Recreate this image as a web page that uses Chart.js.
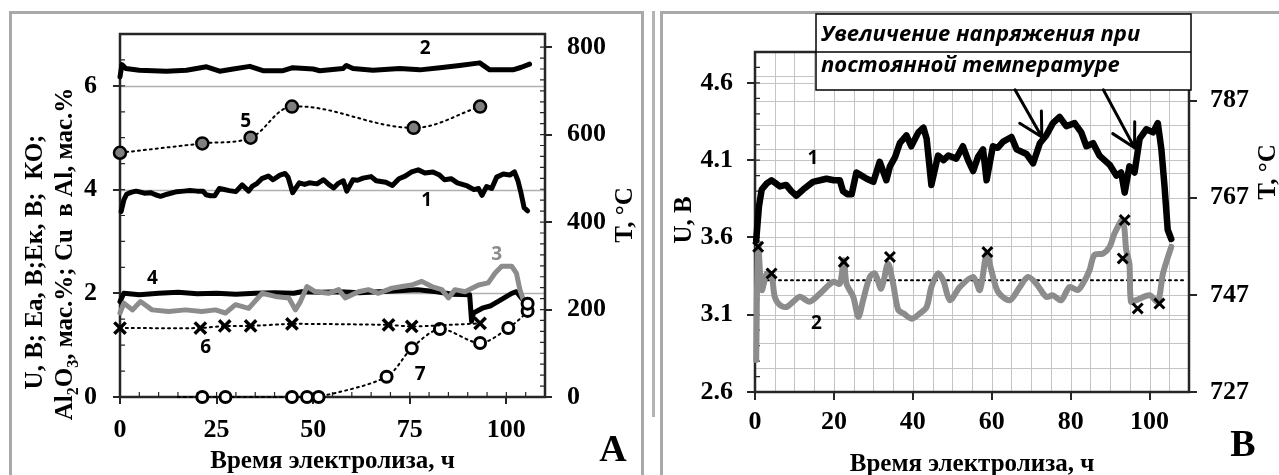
<!DOCTYPE html>
<html>
<head>
<meta charset="utf-8">
<script src="https://cdn.jsdelivr.net/npm/chart.js@4.4.0/dist/chart.umd.min.js"></script>
<style>
  html, body { margin: 0; padding: 0; background: #fff; }
  body { width: 1279px; height: 475px; position: relative; overflow: hidden; }
  .frame { position: absolute; border: 3px solid #a9a9a9; box-sizing: border-box; }
  canvas { position: absolute; top: 0; }
</style>
</head>
<body>
<div class="frame" style="left:9px; top:11px; width:635px; height:490px;"></div>
<div style="position:absolute; left:652px; top:11px; width:3px; height:406px; background:#b4b4b4;"></div>
<div class="frame" style="left:660px; top:11px; width:640px; height:490px;"></div>
<canvas id="panelA" width="640" height="475" style="left:0px;"></canvas>
<canvas id="panelB" width="619" height="475" style="left:660px;"></canvas>
<script>
// ---- Cell voltage U, V (curve 1 in both panels) ----
const timeU = [0.3, 1.0, 1.7, 3.0, 4.2, 5.3, 6.3, 7.9, 9.2, 10.5, 12.2, 14.7, 16.5, 18.1, 20.0, 21.5, 22.3, 23.4, 24.5,
  25.7, 27.0, 28.3, 30.0, 31.6, 33.3, 34.2, 35.5, 36.7, 38.4, 39.6, 41.4, 42.7, 43.5, 44.7, 46.4, 47.8, 49.0, 51.0,
  52.7, 54.0, 55.3, 56.5, 57.8, 58.7, 60.3, 61.5, 62.9, 65.0, 66.3, 68.8, 70.5, 72.2, 73.8, 75.5, 77.2, 78.9, 81.0,
  82.7, 84.0, 85.7, 87.3, 89.9, 91.6, 92.8, 93.7, 94.9, 96.2, 97.5, 99.2, 100.9, 102.1, 103.0, 103.8, 104.6, 105.5];
const voltU = [3.58, 3.80, 3.91, 3.95, 3.97, 3.95, 3.93, 3.94, 3.90, 3.87, 3.91, 3.96, 3.97, 3.98, 3.97, 3.97, 3.90, 3.88, 3.88,
  4.02, 4.00, 3.98, 3.96, 4.09, 3.97, 4.06, 4.12, 4.21, 4.26, 4.19, 4.28, 4.31, 4.24, 3.94, 4.13, 4.10, 4.13, 4.11,
  4.19, 4.10, 4.03, 4.12, 4.17, 3.97, 4.19, 4.18, 4.22, 4.25, 4.17, 4.14, 4.08, 4.21, 4.26, 4.34, 4.38, 4.32, 4.34,
  4.28, 4.19, 4.21, 4.13, 4.07, 4.00, 4.02, 3.89, 4.06, 4.02, 4.24, 4.30, 4.28, 4.34, 4.17, 3.93, 3.65, 3.59];

// ---- Panel A: temperature T, °C (curve 2) ----
const timeTempA = [0, 0.5, 1.5, 5, 12, 17.2, 22.4, 25.8, 29.3, 33.6, 37, 42.2, 44.7, 50, 51.7, 57.7, 58.6, 60.3,
  65.5, 72.4, 77.6, 82.8, 87.9, 93.1, 95.7, 101.7, 103.9, 106];
const tempA = [732, 760, 751, 747, 745, 747, 755, 745, 750, 756, 746, 746, 753, 750, 746, 751, 758, 751,
  747, 751, 748, 753, 758, 764, 748, 748, 754, 761];

// ---- Panel A: anode potential Ea, V (curve 3) ----
const timeEa = [0, 1, 3.2, 5.3, 8.3, 12.6, 16.9, 21.2, 24.7, 27.3, 29.9, 33.3, 36.8, 40.2, 43.7, 45.4, 46.7, 48.4,
  50.5, 54, 56.6, 58.3, 61.7, 64.3, 66.9, 70.4, 73, 75.5, 78.1, 80.7, 83.3, 85, 86.7, 89.3, 92.8, 95.3, 97.1, 98.8,
  101.4, 102.6, 103.5, 104.4];
const voltEa = [1.62, 1.81, 1.68, 1.84, 1.68, 1.65, 1.68, 1.65, 1.68, 1.62, 1.78, 1.71, 2.00, 1.94, 1.91, 1.68, 1.84, 2.13,
  2.03, 2.00, 2.07, 1.91, 2.03, 2.07, 2.00, 2.10, 2.13, 2.16, 2.23, 2.13, 2.07, 1.91, 2.07, 2.03, 2.16, 2.20, 2.39, 2.52,
  2.52, 2.39, 2.07, 1.87];

// ---- Panel A: cathode potential Ek, V (curve 4) ----
const timeEk = [0, 1, 5, 10, 15, 20, 25, 30, 35, 40, 45, 47, 52, 57, 62, 67, 72, 77, 82, 86, 90.5, 91.0, 91.5,
  94, 96, 98, 101.4, 102.6, 104, 105.5];
const voltEk = [1.84, 2.00, 1.97, 2.00, 2.02, 1.99, 2.00, 1.98, 2.00, 2.01, 2.00, 2.03, 2.02, 2.03, 2.01, 2.03, 2.05, 2.07,
  2.03, 1.98, 1.97, 1.46, 1.62, 1.72, 1.76, 1.85, 2.00, 2.03, 1.90, 1.78];

// ---- Panel A: cryolite ratio KO (5), Al2O3 wt.% (6), Cu in Al wt.% (7) ----
const timeKO = [0, 21.3, 33.8, 44.5, 76, 93.2];
const ratioKO = [4.71, 4.89, 5.00, 5.60, 5.19, 5.60];
const timeAl2O3 = [0, 20.8, 27.1, 33.8, 44.5, 69.5, 75.5, 93.2];
const al2o3 = [1.33, 1.33, 1.37, 1.37, 1.41, 1.39, 1.36, 1.42];
const timeCu = [15, 21.3, 27.3, 44.5, 48.4, 51.4, 69, 75.5, 82.8, 93.2, 100.5, 105.5, 105.5];
const cuInAl = [0, 0, 0, 0, 0, 0, 0.39, 0.94, 1.31, 1.04, 1.33, 1.66, 1.80];

// ---- Panel B: electrolyte temperature T, °C (curve 2) ----
const timeTempB = [0.3, 0.8, 1.7, 3.0, 4.2, 5.0, 6.3, 8.0, 9.7, 11.4, 13.9, 16.9, 19.8, 21.5, 22.5, 23.2, 24.9, 26.2,
  27.4, 29.1, 30.4, 32.0, 33.7, 35.0, 36.3, 37.6, 39.7, 41.8, 43.5, 44.7, 46.4, 47.7, 49.4, 51.9, 55.3, 57.0, 58.7,
  59.9, 61.6, 64.6, 67.1, 69.2, 71.3, 73.8, 75.5, 77.6, 79.7, 81.8, 83.1, 84.8, 86.0, 88.2, 89.9, 91.1, 93.2, 94.1,
  94.9, 95.3, 96.6, 100.0, 102.1, 103.4, 105.5];
const tempB = [733.6, 757.6, 748.0, 751.4, 751.0, 746.6, 744.9, 744.5, 745.6, 746.6, 745.6, 747.6, 749.7, 749.3, 754.1, 749.3, 746.6, 742.5,
  745.9, 750.7, 751.4, 748.3, 753.4, 749.3, 743.9, 743.2, 742.1, 743.2, 744.5, 748.6, 751.4, 750.0, 745.9, 748.6, 750.7, 748.0, 755.5,
  752.1, 747.6, 745.9, 748.6, 750.7, 749.3, 746.6, 746.9, 745.9, 748.6, 748.0, 749.3, 752.1, 755.2, 755.5, 756.9, 759.6, 762.4, 756.2,
  753.4, 745.6, 745.9, 746.9, 745.6, 751.4, 756.9];
// thermocouple check readings, °C
const timeCheck = [0.8, 4.2, 22.5, 34.2, 58.9, 93.2, 93.7, 97.0, 102.5];
const tempCheck = [756.9, 751.4, 753.8, 754.8, 755.8, 754.5, 762.4, 744.2, 745.2];
// set-point temperature and the time span it is drawn over
const setTemp = 750;
const setSpan = [0, 109];

// ---- Tick labels ----
const ticksAx = [0, 25, 50, 75, 100];
const ticksAy = [0, 2, 4, 6];
const ticksAy2 = [0, 200, 400, 600, 800];
const ticksBx = [0, 20, 40, 60, 80, 100];
const ticksBy = [2.6, 3.1, 3.6, 4.1, 4.6];
const ticksBy2 = [727, 747, 767, 787];

// ---------------------------------------------------------------
const pts = (xs, ys) => xs.map((x, i) => ({ x, y: ys[i] }));
const serif = (size) => `bold ${size}px "Liberation Serif", "Times New Roman", serif`;
const sans = (size) => `bold ${size}px "Open Sans", "Noto Sans", sans-serif`;
const tickFont = { family: '"Liberation Serif", "Times New Roman", serif', size: 26, weight: 'bold' };
const titleSize = 25;
const setTicks = (values) => (s) => { s.ticks = values.map(v => ({ value: v })); };
const axisLine = '#262626';

function minorTicks(ctx, chart, id, step, len) {
  const s = chart.scales[id], a = chart.chartArea;
  const n = Math.round((s.max - s.min) / step);
  ctx.beginPath();
  for (let k = 1; k < n; k++) {
    const p = s.getPixelForValue(s.min + k * step);
    if (s.isHorizontal()) { ctx.moveTo(p, a.bottom); ctx.lineTo(p, a.bottom - len); }
    else if (s.position === 'left') { ctx.moveTo(a.left, p); ctx.lineTo(a.left + len, p); }
    else { ctx.moveTo(a.right, p); ctx.lineTo(a.right - len, p); }
  }
  ctx.stroke();
}

function hLines(ctx, chart, id, values) {
  const s = chart.scales[id], a = chart.chartArea;
  ctx.beginPath();
  values.forEach(v => { const p = Math.round(s.getPixelForValue(v)) + 0.5; ctx.moveTo(a.left, p); ctx.lineTo(a.right, p); });
  ctx.stroke();
}

function vLines(ctx, chart, id, values) {
  const s = chart.scales[id], a = chart.chartArea;
  ctx.beginPath();
  values.forEach(v => { const p = Math.round(s.getPixelForValue(v)) + 0.5; ctx.moveTo(p, a.top); ctx.lineTo(p, a.bottom); });
  ctx.stroke();
}

// rotated (bottom-to-top) title; parts = [[text, isSubscript], ...]
function rotatedTitle(ctx, parts, cx, cy, size) {
  ctx.save();
  ctx.translate(cx, cy);
  ctx.rotate(-Math.PI / 2);
  ctx.textBaseline = 'middle';
  ctx.textAlign = 'left';
  ctx.fillStyle = '#000';
  const fontOf = (sub) => serif(sub ? Math.round(size * 0.65) : size);
  let total = 0;
  const widths = parts.map(([t, sub]) => { ctx.font = fontOf(sub); const w = ctx.measureText(t).width; total += w; return w; });
  let x = -total / 2;
  parts.forEach(([t, sub], i) => {
    ctx.font = fontOf(sub);
    ctx.fillText(t, x, sub ? size * 0.3 : 0);
    x += widths[i];
  });
  ctx.restore();
}

function centeredText(ctx, text, x, y, font, color) {
  ctx.save();
  ctx.font = font;
  ctx.fillStyle = color || '#000';
  ctx.textAlign = 'center';
  ctx.textBaseline = 'middle';
  ctx.fillText(text, x, y);
  ctx.restore();
}

function seriesLabels(ctx, chart, list) {
  list.forEach(l => {
    const x = chart.scales.x.getPixelForValue(l.t);
    const y = chart.scales[l.axis || 'y'].getPixelForValue(l.v);
    centeredText(ctx, l.text, x, y, sans(19), l.color);
  });
}

function arrow(ctx, x0, y0, x1, y1, head) {
  const ang = Math.atan2(y1 - y0, x1 - x0);
  ctx.beginPath();
  ctx.moveTo(x0, y0); ctx.lineTo(x1, y1);
  [-0.5, 0.5].forEach(d => {
    ctx.moveTo(x1, y1);
    ctx.lineTo(x1 - head * Math.cos(ang + d), y1 - head * Math.sin(ang + d));
  });
  ctx.stroke();
}

function plotBox(ctx, a) {
  ctx.save();
  ctx.strokeStyle = axisLine;
  ctx.lineWidth = 2.5;
  ctx.strokeRect(a.left, a.top, a.right - a.left, a.bottom - a.top);
  ctx.restore();
}

const baseOptions = {
  responsive: false,
  animation: false,
  devicePixelRatio: 1,
  plugins: { legend: { display: false }, tooltip: { enabled: false } },
  elements: { line: { borderJoinStyle: 'round', borderCapStyle: 'round' }, point: { hitRadius: 0 } },
  events: []
};

const majorGrid = (len) => ({ drawOnChartArea: false, drawTicks: true, tickLength: len, color: axisLine, lineWidth: 2 });

// ================= Panel A =================
const labelsA = [
  { text: '1', t: 79.4, v: 3.78 },
  { text: '2', t: 79.0, v: 6.71 },
  { text: '3', t: 97.5, v: 2.74, color: '#8c8c8c' },
  { text: '4', t: 8.4, v: 2.29 },
  { text: '5', t: 32.5, v: 5.32 },
  { text: '6', t: 22.2, v: 0.96 },
  { text: '7', t: 77.7, v: 0.43 }
];

const panelAPlugin = {
  id: 'panelA',
  beforeDatasetsDraw(chart) {
    const ctx = chart.ctx, a = chart.chartArea;
    ctx.save();
    ctx.strokeStyle = '#b0b0b0';
    ctx.lineWidth = 1.5;
    hLines(ctx, chart, 'y', ticksAy.filter(v => v > 0));
    ctx.strokeStyle = axisLine;
    ctx.lineWidth = 1.2;
    minorTicks(ctx, chart, 'x', 5, 5);
    minorTicks(ctx, chart, 'y', 0.5, 5);
    minorTicks(ctx, chart, 'y2', 25, 5);
    ctx.restore();
    plotBox(ctx, a);
  },
  afterDraw(chart) {
    const ctx = chart.ctx, a = chart.chartArea;
    seriesLabels(ctx, chart, labelsA);
    centeredText(ctx, 'Время электролиза, ч', (a.left + a.right) / 2, 462, serif(titleSize));
    centeredText(ctx, 'A', 613, 451, serif(38));
    rotatedTitle(ctx, [['U, В; Еа, В;Ек, В;  КО;', false]], 36, 262, titleSize);
    rotatedTitle(ctx, [['Al', false], ['2', true], ['O', false], ['3', true], [', мас.%; Cu  в Al, мас.%', false]], 66, 254, titleSize);
    rotatedTitle(ctx, [['T, °C', false]], 626, 215, titleSize);
  }
};

new Chart(document.getElementById('panelA'), {
  type: 'line',
  data: {
    datasets: [
      { data: pts(timeKO, ratioKO), yAxisID: 'y', order: 0, clip: false,
        borderColor: '#000', borderWidth: 2, borderDash: [2, 4], tension: 0.35,
        pointStyle: 'circle', pointRadius: 6, pointBackgroundColor: '#7f7f7f', pointBorderColor: '#000', pointBorderWidth: 2.5 },
      { data: pts(timeAl2O3, al2o3), yAxisID: 'y', order: 1, clip: false,
        borderColor: '#000', borderWidth: 2, borderDash: [2, 4], tension: 0.2,
        pointStyle: 'crossRot', pointRadius: 8, pointBorderColor: '#000', pointBorderWidth: 3.5 },
      { data: pts(timeCu, cuInAl), yAxisID: 'y', order: 2, clip: false,
        borderColor: '#000', borderWidth: 2, borderDash: [2, 4], tension: 0.3,
        pointStyle: 'circle', pointRadius: timeCu.map((t, i) => (i === 0 ? 0 : 5.5)),
        pointBackgroundColor: '#fff', pointBorderColor: '#000', pointBorderWidth: 3 },
      { data: pts(timeEa, voltEa), yAxisID: 'y', order: 3, clip: false,
        borderColor: '#8c8c8c', borderWidth: 5, pointRadius: 0, tension: 0 },
      { data: pts(timeEk, voltEk), yAxisID: 'y', order: 4, clip: false,
        borderColor: '#000', borderWidth: 5, pointRadius: 0, tension: 0 },
      { data: pts(timeU, voltU), yAxisID: 'y', order: 5, clip: false,
        borderColor: '#000', borderWidth: 5, pointRadius: 0, tension: 0 },
      { data: pts(timeTempA, tempA), yAxisID: 'y2', order: 6, clip: false,
        borderColor: '#000', borderWidth: 5, pointRadius: 0, tension: 0 }
    ]
  },
  options: Object.assign({}, baseOptions, {
    layout: { padding: { top: 34, left: 0, right: 0, bottom: 0 } },
    scales: {
      x: { type: 'linear', min: 0, max: 110, afterBuildTicks: setTicks(ticksAx), afterFit: s => { s.height = 78; },
        grid: majorGrid(7), border: { display: false },
        ticks: { font: tickFont, color: '#000', padding: 11, maxRotation: 0, autoSkip: false } },
      y: { type: 'linear', position: 'left', min: 0, max: 7, afterBuildTicks: setTicks(ticksAy), afterFit: s => { s.width = 120; },
        grid: majorGrid(7), border: { display: false },
        ticks: { font: tickFont, color: '#000', padding: 16, autoSkip: false } },
      y2: { type: 'linear', position: 'right', min: 0, max: 830, afterBuildTicks: setTicks(ticksAy2), afterFit: s => { s.width = 95; },
        grid: majorGrid(7), border: { display: false },
        ticks: { font: tickFont, color: '#000', padding: 15, autoSkip: false } }
    }
  }),
  plugins: [panelAPlugin]
});

// ================= Panel B =================
const labelsB = [
  { text: '1', t: 14.7, v: 4.11 },
  { text: '2', t: 15.6, v: 3.04 }
];
// arrows: from the note box down to the curve (time, U)
const arrowsB = [
  { from: [65.9, 4.555], to: [72.7, 4.25] },
  { from: [88.3, 4.555], to: [96.2, 4.18] }
];

const panelBPlugin = {
  id: 'panelB',
  beforeDatasetsDraw(chart) {
    const ctx = chart.ctx, a = chart.chartArea;
    const sx = chart.scales.x, sy2 = chart.scales.y2;
    ctx.save();
    ctx.strokeStyle = '#c4c4c4';
    ctx.lineWidth = 1;
    const vx = [];
    for (let k = 1; k * 5 < sx.max; k++) vx.push(k * 5);
    vLines(ctx, chart, 'x', vx);
    const hy2 = [];
    for (let k = 1; sy2.min + k * 5 < sy2.max; k++) hy2.push(sy2.min + k * 5);
    hLines(ctx, chart, 'y2', hy2);
    hLines(ctx, chart, 'y', ticksBy.slice(1));
    ctx.strokeStyle = axisLine;
    ctx.lineWidth = 1.2;
    minorTicks(ctx, chart, 'y', 0.1, 5);
    ctx.restore();
    plotBox(ctx, a);
  },
  afterDraw(chart) {
    const ctx = chart.ctx, a = chart.chartArea;
    const sx = chart.scales.x, sy = chart.scales.y;
    seriesLabels(ctx, chart, labelsB);

    // note box
    const bx0 = a.left + 61, bx1 = a.right + 2, by0 = a.top - 38, by1 = a.top + 38;
    ctx.save();
    ctx.fillStyle = '#fff';
    ctx.fillRect(bx0, by0, bx1 - bx0, by1 - by0);
    ctx.strokeStyle = '#000';
    ctx.lineWidth = 1.5;
    ctx.strokeRect(bx0, by0, bx1 - bx0, by1 - by0);
    ctx.beginPath(); ctx.moveTo(bx0, a.top); ctx.lineTo(bx1, a.top); ctx.stroke();
    ctx.font = `italic bold 22px "Open Sans", "Noto Sans", sans-serif`;
    ctx.fillStyle = '#000';
    ctx.textAlign = 'left';
    ctx.textBaseline = 'middle';
    ctx.fillText('Увеличение напряжения при', bx0 + 5, by0 + 21);
    ctx.fillText('постоянной температуре', bx0 + 5, a.top + 14);

    ctx.strokeStyle = '#000';
    ctx.lineWidth = 3;
    ctx.lineCap = 'round';
    arrowsB.forEach(ar => {
      arrow(ctx, sx.getPixelForValue(ar.from[0]), sy.getPixelForValue(ar.from[1]),
        sx.getPixelForValue(ar.to[0]), sy.getPixelForValue(ar.to[1]), 26);
    });
    ctx.restore();

    centeredText(ctx, 'Время электролиза, ч', (a.left + a.right) / 2, 465, serif(titleSize));
    centeredText(ctx, 'B', 583, 446, serif(38));
    rotatedTitle(ctx, [['U, В', false]], 25, 220, titleSize);
    rotatedTitle(ctx, [['T, °C', false]], 609, 172, titleSize);
  }
};

new Chart(document.getElementById('panelB'), {
  type: 'line',
  data: {
    datasets: [
      { data: pts(timeCheck, tempCheck), yAxisID: 'y2', order: 0, clip: false, showLine: false,
        pointStyle: 'crossRot', pointRadius: 7, pointBorderColor: '#000', pointBorderWidth: 3 },
      { data: pts(timeU, voltU), yAxisID: 'y', order: 1, clip: false,
        borderColor: '#000', borderWidth: 6.5, pointRadius: 0, tension: 0 },
      { data: pts(timeTempB, tempB), yAxisID: 'y2', order: 2, clip: false,
        borderColor: '#8c8c8c', borderWidth: 6, pointRadius: 0, tension: 0.3 },
      { data: pts(setSpan, [setTemp, setTemp]), yAxisID: 'y2', order: 3, clip: false,
        borderColor: '#000', borderWidth: 2, borderDash: [2, 4], pointRadius: 0 }
    ]
  },
  options: Object.assign({}, baseOptions, {
    layout: { padding: { top: 52, left: 0, right: 0, bottom: 0 } },
    scales: {
      x: { type: 'linear', min: 0, max: 110, afterBuildTicks: setTicks(ticksBx), afterFit: s => { s.height = 83; },
        grid: majorGrid(8), border: { display: false },
        ticks: { font: tickFont, color: '#000', padding: 7, maxRotation: 0, autoSkip: false } },
      y: { type: 'linear', position: 'left', min: 2.6, max: 4.8, afterBuildTicks: setTicks(ticksBy), afterFit: s => { s.width = 95; },
        grid: majorGrid(8), border: { display: false },
        ticks: { font: tickFont, color: '#000', padding: 14, autoSkip: false, callback: v => v.toFixed(1) } },
      y2: { type: 'linear', position: 'right', min: 727, max: 797, afterBuildTicks: setTicks(ticksBy2), afterFit: s => { s.width = 90; },
        grid: majorGrid(8), border: { display: false },
        ticks: { font: tickFont, color: '#000', padding: 13, autoSkip: false } }
    }
  }),
  plugins: [panelBPlugin]
});
</script>
</body>
</html>
